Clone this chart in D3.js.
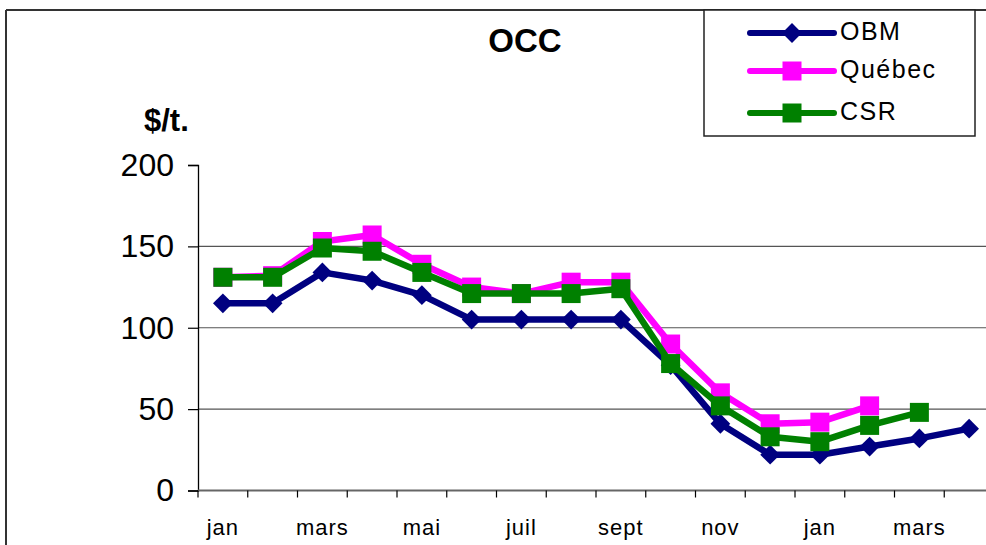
<!DOCTYPE html>
<html>
<head>
<meta charset="utf-8">
<script src="https://cdn.jsdelivr.net/npm/d3@7"></script>
<style>
    body { margin: 0; background: #fff; }
    svg { display: block; font-family: "Liberation Sans", Arial, sans-serif; }
</style>
</head>
<body>
<div id="chart"></div>
<script>
// Monthly OCC prices ($/t.), jan of year 1 to avr of year 2
const months = ["jan", "fév", "mars", "avr", "mai", "juin", "juil", "août", "sept", "oct", "nov", "déc", "jan", "fév", "mars", "avr"];
const obm = [115, 115, 134, 129, 120, 105, 105, 105, 105, 77, 41, 22, 22, 27, 32, 38];
const quebec = [131, 132, 153, 157, 139, 125, 121, 128, 128, 90, 60, 41, 42, 52, null, null];
const csr = [131, 131, 149, 147, 134, 121, 121, 121, 124, 78, 52, 33, 30, 40, 48, null];
const yTicks = [0, 50, 100, 150, 200];
const gridTicks = [50, 100, 150];

const series = [
    { name: "OBM", values: obm, color: "#000080", marker: "diamond" },
    { name: "Québec", values: quebec, color: "#ff00ff", marker: "square" },
    { name: "CSR", values: csr, color: "#008000", marker: "square" }
];

const W = 986, H = 545;
const margin = { top: 165, left: 198 };
const width = 796, height = 325.5;

const svg = d3.select("#chart")
    .append("svg")
    .attr("width", W)
    .attr("height", H)
    .style("overflow", "hidden");

// outer chart frame (top and left edges visible)
svg.append("line").attr("x1", 6).attr("x2", W).attr("y1", 10).attr("y2", 10)
    .attr("stroke", "#333").attr("stroke-width", 2);
svg.append("line").attr("x1", 6).attr("x2", 6).attr("y1", 10).attr("y2", H)
    .attr("stroke", "#333").attr("stroke-width", 2);

// title and unit label
svg.append("text")
    .attr("x", 525).attr("y", 52)
    .attr("text-anchor", "middle")
    .style("font-size", "33px").style("font-weight", "bold")
    .text("OCC");

svg.append("text")
    .attr("x", 144).attr("y", 131)
    .style("font-size", "31px").style("font-weight", "bold")
    .text("$/t.");

const g = svg.append("g")
    .attr("transform", `translate(${margin.left},${margin.top})`);

const x = d3.scaleBand().domain(d3.range(months.length)).range([0, width]);
const y = d3.scaleLinear().domain([0, 200]).range([height, 0]);
const cx = i => x(i) + x.bandwidth() / 2;

// gridlines
g.append("g")
    .selectAll("line")
    .data(gridTicks)
    .join("line")
    .attr("x1", 0).attr("x2", width)
    .attr("y1", d => y(d)).attr("y2", d => y(d))
    .attr("stroke", "#555").attr("stroke-width", 1.2);

// y axis
const yAxis = g.append("g")
    .call(d3.axisLeft(y).tickValues(yTicks).tickSize(10).tickPadding(14));
yAxis.select(".domain").attr("stroke", "#000").attr("stroke-width", 1.3);
yAxis.selectAll(".tick line").attr("stroke", "#000").attr("stroke-width", 1.2);
yAxis.selectAll("text")
    .style("font-size", "32px")
    .attr("fill", "#000");

// x axis: ticks at band edges, label every other month
const edges = d3.range(months.length + 1).map(i => i * x.step());
const xAxis = g.append("g").attr("transform", `translate(0,${height})`);
xAxis.append("line")
    .attr("x1", 0).attr("x2", width)
    .attr("stroke", "#666").attr("stroke-width", 2);
xAxis.selectAll(".xtick")
    .data(edges)
    .join("line")
    .attr("class", "xtick")
    .attr("x1", d => d).attr("x2", d => d)
    .attr("y1", 0).attr("y2", 7)
    .attr("stroke", "#000").attr("stroke-width", 1.2);
xAxis.selectAll(".xlabel")
    .data(months.map((m, i) => ({ m, i })).filter(d => d.i % 2 === 0))
    .join("text")
    .attr("class", "xlabel")
    .attr("x", d => cx(d.i))
    .attr("y", 44)
    .attr("text-anchor", "middle")
    .style("font-size", "22px")
    .style("letter-spacing", "1px")
    .text(d => d.m);

const diamond = d3.symbol().type(d3.symbolDiamond2).size(250);

function drawMarker(sel, s, px, py) {
    if (s.marker === "diamond") {
        sel.append("path")
            .attr("d", diamond)
            .attr("transform", `translate(${px},${py})`)
            .attr("fill", s.color);
    } else {
        sel.append("rect")
            .attr("x", px - 9.5).attr("y", py - 9.5)
            .attr("width", 19).attr("height", 19)
            .attr("fill", s.color);
    }
}

// series: line then markers, in order so CSR ends on top
const line = d3.line()
    .defined(d => d != null)
    .x((d, i) => cx(i))
    .y(d => y(d));

series.forEach(s => {
    const sg = g.append("g");
    sg.append("path")
        .datum(s.values)
        .attr("d", line)
        .attr("fill", "none")
        .attr("stroke", s.color)
        .attr("stroke-width", 6.5)
        .attr("stroke-linejoin", "round");
    s.values.forEach((v, i) => {
        if (v != null) drawMarker(sg, s, cx(i), y(v));
    });
});

// legend
const legend = svg.append("g");
legend.append("rect")
    .attr("x", 704).attr("y", 10)
    .attr("width", 271).attr("height", 126)
    .attr("fill", "#fff")
    .attr("stroke", "#222").attr("stroke-width", 1.5);

const legendY = [33, 71, 113];
series.forEach((s, i) => {
    const ly = legendY[i];
    legend.append("line")
        .attr("x1", 750).attr("x2", 834)
        .attr("y1", ly).attr("y2", ly)
        .attr("stroke", s.color).attr("stroke-width", 6)
        .attr("stroke-linecap", "round");
    drawMarker(legend, s, 792, ly);
    legend.append("text")
        .attr("x", 840).attr("y", ly + 7)
        .style("font-size", "25px")
        .style("letter-spacing", "1.5px")
        .text(s.name);
});
</script>
</body>
</html>
